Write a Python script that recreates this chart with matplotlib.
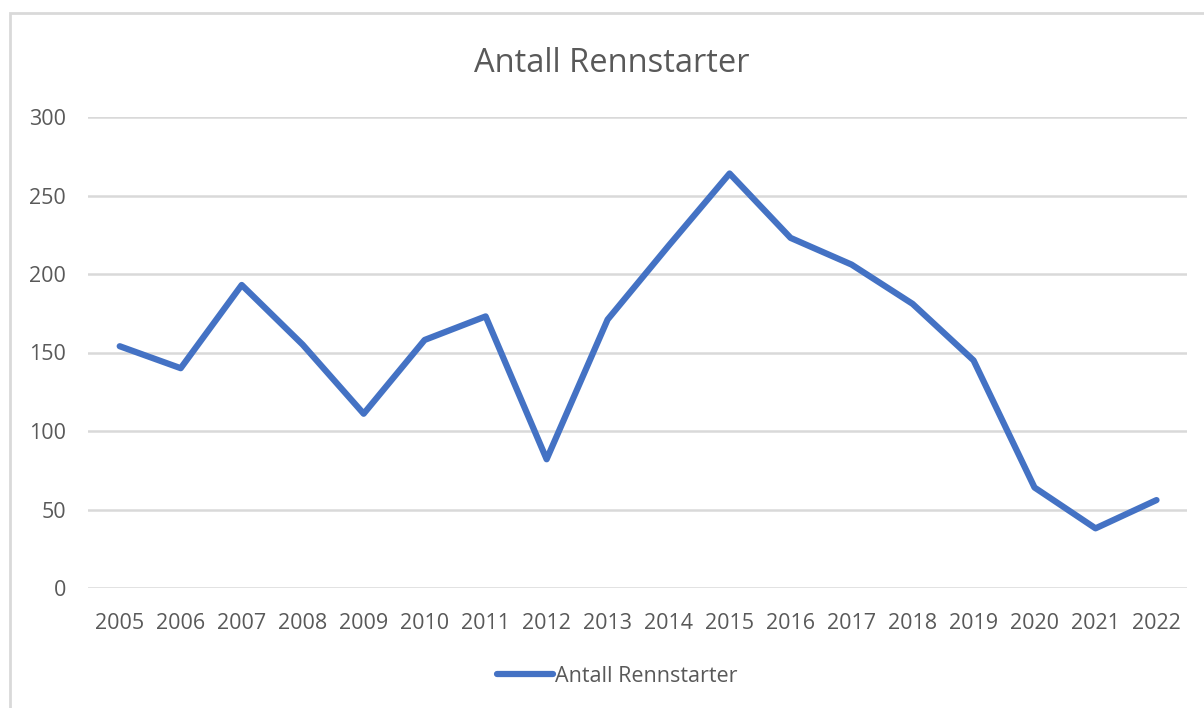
import matplotlib.pyplot as plt
from matplotlib.patches import Rectangle

years = list(range(2005, 2023))
starts = [154, 140, 193, 155, 111, 158, 173, 82, 171, 218, 264, 223, 206, 181, 145, 64, 38, 56]
series_name = "Antall Rennstarter"

W, H = 1204, 708
fig = plt.figure(figsize=(W / 100, H / 100), dpi=100)
plt.rcParams['font.family'] = ['Open Sans', 'DejaVu Sans']
text_col = "#595959"
line_col = "#4472C4"

# chart frame (extends past right/bottom edge like the screenshot)
fig.patches.append(Rectangle((10 / W, -0.1), 1.2, (H - 13) / H + 0.1, transform=fig.transFigure,
                             fill=False, edgecolor="#d9d9d9", linewidth=2))

ax = fig.add_axes([88 / W, (H - 588) / H, (1187 - 88) / W, (588 - 117) / H])
ax.plot(years, starts, color=line_col, linewidth=4.5, solid_capstyle='round',
        solid_joinstyle='round', label=series_name)

ax.set_xlim(2004.48, 2022.5)
ax.set_ylim(0, 300)
ax.set_yticks(range(0, 301, 50))
ax.set_xticks(years)
ax.grid(axis='y', color="#d9d9d9", linewidth=1.8)
ax.set_axisbelow(True)
for s in ax.spines.values():
    s.set_visible(False)
ax.tick_params(length=0, labelsize=15.5, labelcolor=text_col)
ax.tick_params(axis='y', pad=16)
ax.tick_params(axis='x', pad=18)

fig.text(612 / W, 1 - 64 / H, "Antall Rennstarter", ha='center', va='center',
         fontsize=23.5, color=text_col)

leg = fig.legend(loc='center', bbox_to_anchor=(617 / W, 1 - 676 / H), frameon=False,
                 fontsize=15.5, handlelength=2.6, handletextpad=0.1)
for t in leg.get_texts():
    t.set_color(text_col)

fig.savefig("out.png", dpi=100)
